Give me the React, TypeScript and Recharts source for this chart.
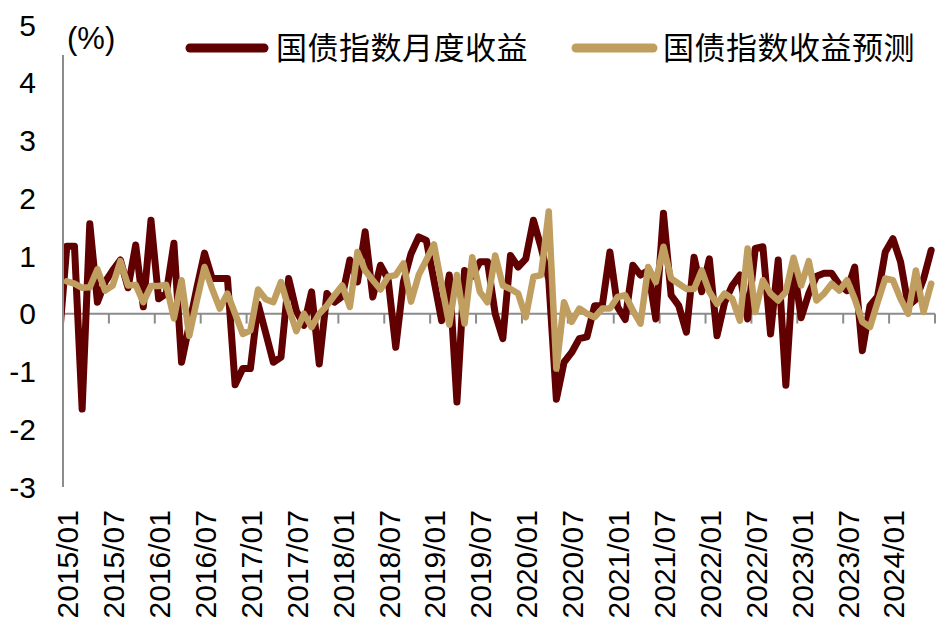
import React from 'react';
import { LineChart, Line, XAxis, YAxis, ReferenceLine } from 'recharts';

// months 2015/01 .. 2024/06
const months: string[] = [];
for (let y = 2015; y <= 2024; y++) {
  for (let m = 1; m <= 12; m++) {
    if (y === 2024 && m > 6) break;
    months.push(`${y}/${String(m).padStart(2, '0')}`);
  }
}

const tickLabels = [
  '2015/01', '2015/07', '2016/01', '2016/07', '2017/01', '2017/07', '2018/01',
  '2018/07', '2019/01', '2019/07', '2020/01', '2020/07', '2021/01', '2021/07',
  '2022/01', '2022/07', '2023/01', '2023/07', '2024/01',
];
const yTicks = [-3, -2, -1, 0, 1, 2, 3, 4, 5];

const seriesNames = ['国债指数月度收益', '国债指数收益预测'];

// the line enters from the left edge: only the tail of 2014/12 shows
const priorMonth = '2014/12';
const priorReturn = -0.45;

const monthlyReturn = [
  1.17, 1.17, -1.65, 1.56, 0.2, 0.55, 0.75, 0.93, 0.45, 1.19, 0.12, 1.62,
  0.26, 0.35, 1.22, -0.84, -0.2, 0.45, 1.05, 0.61, 0.61, 0.61, -1.23, -0.95,
  -0.95, 0.17, -0.33, -0.84, -0.75, 0.61, 0.05, -0.2, 0.38, -0.87, 0.35, 0.2,
  0.3, 0.93, 0.55, 1.42, 0.29, 0.84, 0.6, -0.58, 0.55, 1.04, 1.33, 1.27,
  0.58, -0.12, 0.67, -1.53, 0.75, 0.65, 0.9, 0.9, 0.0, -0.43, 1.01, 0.81,
  0.95, 1.62, 1.15, 0.6, -1.48, -0.84, -0.67, -0.43, -0.4, 0.14, 0.14, 1.07,
  0.12, -0.1, 0.84, 0.67, 0.75, -0.09, 1.74, 0.32, 0.14, -0.32, 0.98, 0.38,
  0.95, -0.38, 0.2, 0.49, 0.67, -0.09, 1.13, 1.16, -0.35, 0.93, -1.24, 0.85,
  -0.07, 0.35, 0.65, 0.7, 0.7, 0.5, 0.4, 0.81, -0.64, 0.14, 0.3, 1.07,
  1.3, 0.9, 0.14, 0.25, 0.6, 1.1,
];

const forecast = [
  0.56, 0.52, 0.45, 0.46, 0.77, 0.4, 0.49, 0.91, 0.49, 0.5, 0.2, 0.48,
  0.48, 0.5, -0.08, 0.58, -0.38, 0.23, 0.81, 0.43, 0.09, 0.35, 0.0, -0.35,
  -0.29, 0.42, 0.25, 0.2, 0.55, 0.1, -0.3, 0.0, -0.23, 0.0, 0.14, 0.32,
  0.49, 0.12, 1.07, 0.75, 0.58, 0.42, 0.64, 0.67, 0.87, 0.21, 0.67, 0.93,
  1.2, 0.5, -0.19, 0.67, -0.17, 0.98, 0.38, 0.2, 1.01, 0.49, 0.43, 0.35,
  -0.06, 0.64, 0.67, 1.77, -0.95, 0.2, -0.14, 0.09, 0.0, -0.06, 0.09, 0.09,
  0.29, 0.32, 0.06, -0.17, 0.81, 0.55, 1.16, 0.61, 0.52, 0.43, 0.43, 0.75,
  0.38, 0.17, 0.35, 0.26, -0.12, 1.13, 0.03, 0.58, 0.35, 0.23, 0.38, 0.97,
  0.49, 0.91, 0.23, 0.35, 0.52, 0.4, 0.58, 0.26, -0.14, -0.23, 0.2, 0.61,
  0.58, 0.26, 0.0, 0.75, 0.03, 0.52,
];

const DARK = '#600000';
const GOLD = '#bf9e5f';
const AXIS = '#8c8c8c';
const FONT = '"Liberation Sans", Arial, sans-serif';
const CJK = '"Noto Sans CJK SC", "Noto Sans", sans-serif';

const data = [
  { idx: -1, month: priorMonth, ret: priorReturn, fc: null as number | null },
  ...months.map((m, i) => ({ idx: i, month: m, ret: monthlyReturn[i], fc: forecast[i] })),
];

const labelTicks = tickLabels.map(l => months.indexOf(l));
// excel puts the tick marks on the category boundaries
const tickBounds = labelTicks.map(t => t + 5.5);
const TICK_LEN = 0.17;

const XTick = (props: any) => {
  const { x, y, payload } = props;
  const ty = y + 23;
  return (
    <text
      x={x + 1}
      y={ty}
      transform={`rotate(-90, ${x + 1}, ${ty})`}
      textAnchor="end"
      dominantBaseline="central"
      fontSize={30}
      fontFamily={FONT}
      fill="#000"
    >
      {months[payload.value]}
    </text>
  );
};

export default function App() {
  return (
    <div style={{ position: 'absolute', left: 0, top: 0, width: 947, height: 630, background: '#fff' }}>
      <LineChart width={947} height={630} data={data} margin={{ top: 25, right: 12, bottom: 0, left: 0 }}>
        <XAxis
          dataKey="idx"
          type="number"
          domain={[-0.5, 113.5]}
          allowDataOverflow
          ticks={labelTicks}
          interval={0}
          height={143}
          axisLine={false}
          tickLine={false}
          tickSize={0}
          tickMargin={0}
          tick={<XTick />}
        />
        <YAxis
          type="number"
          domain={[-3, 5]}
          ticks={yTicks}
          interval={0}
          width={63}
          axisLine={{ stroke: AXIS, strokeWidth: 2 }}
          tickLine={false}
          tickSize={0}
          tickMargin={27}
          tick={{ fontSize: 30, fontFamily: FONT, fill: '#000' }}
        />
        <ReferenceLine y={0} stroke={AXIS} strokeWidth={2} />
        {tickBounds.map(b => (
          <ReferenceLine
            key={b}
            segment={[{ x: b, y: 0 }, { x: b, y: -TICK_LEN }]}
            stroke={AXIS}
            strokeWidth={2}
          />
        ))}
        <Line
          type="linear"
          dataKey="ret"
          name={seriesNames[0]}
          stroke={DARK}
          strokeWidth={7}
          strokeLinejoin="round"
          strokeLinecap="round"
          dot={false}
          isAnimationActive={false}
        />
        <Line
          type="linear"
          dataKey="fc"
          name={seriesNames[1]}
          stroke={GOLD}
          strokeWidth={6.5}
          strokeLinejoin="round"
          strokeLinecap="round"
          dot={false}
          isAnimationActive={false}
        />
      </LineChart>
      <svg
        width={947}
        height={80}
        style={{ position: 'absolute', left: 0, top: 0, pointerEvents: 'none' }}
      >
        <rect x={58} y={24} width={66} height={31} fill="#fff" />
        <text x={67} y={49} fontSize={31} fontFamily={FONT} fill="#000">(%)</text>
        <line x1={190} x2={264} y1={48} y2={48} stroke={DARK} strokeWidth={9} strokeLinecap="round" />
        <text x={276} y={59} fontSize={31} fontFamily={CJK} letterSpacing={0.5} fill="#000">{seriesNames[0]}</text>
        <line x1={576} x2={653} y1={48} y2={48} stroke={GOLD} strokeWidth={9} strokeLinecap="round" />
        <text x={663} y={59} fontSize={31} fontFamily={CJK} letterSpacing={0.5} fill="#000">{seriesNames[1]}</text>
      </svg>
    </div>
  );
}
